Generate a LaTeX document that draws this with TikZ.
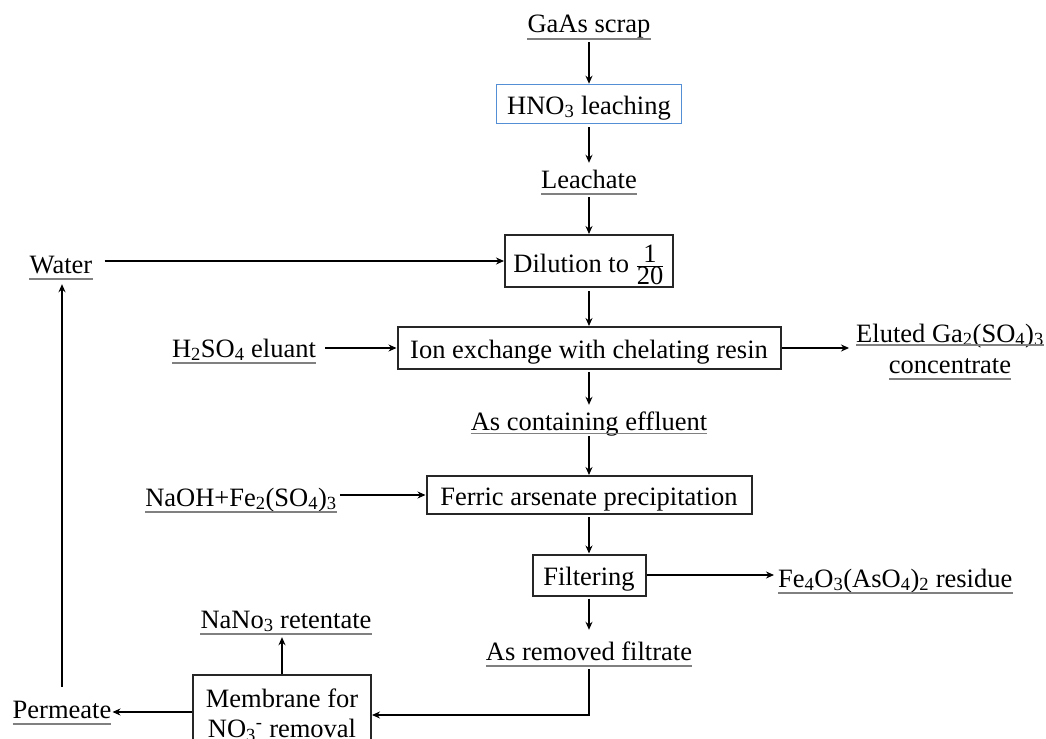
\documentclass[tikz,border=0pt]{standalone}
\usepackage{fontspec}
\setmainfont{Liberation Serif}
\usetikzlibrary{arrows.meta}
\definecolor{boxblue}{RGB}{84,142,213}
\definecolor{ulgray}{RGB}{128,128,128}
\begin{document}
\begin{tikzpicture}[x=1bp,y=-1bp,
  font=\fontsize{26.6}{30}\selectfont,
  box/.style={draw=black!85, line width=2bp, inner sep=0pt, text height=20bp, text depth=0pt},
  lbl/.style={inner sep=0pt, anchor=base, text height=18bp, text depth=6bp},
  arr/.style={line width=2bp, -{Stealth[length=8bp,width=7bp]}},
  uline/.style={draw=ulgray, line width=1.5bp}]
\useasboundingbox (0,0) rectangle (1046,739);

% nodes
\node[lbl] (gaas) at (589,33) {GaAs scrap};
\node[box, draw=boxblue, line width=1.6bp, minimum width=185bp, minimum height=39bp] (hno3) at (589,104) {HNO\textsubscript{3} leaching};
\node[lbl] (leach) at (589,188) {Leachate};
\node[box, minimum width=168bp, minimum height=52bp, text height=22bp] (dil) at (589,261) {Dilution to $\frac{\mbox{1}}{\mbox{20}}$};
\node[lbl] (water) at (61,273) {Water};
\node[box, minimum width=383bp, minimum height=42bp] (ion) at (589,348) {Ion exchange with chelating resin};
\node[lbl] (h2so4) at (244,357) {H\textsubscript{2}SO\textsubscript{4} eluant};
\node[lbl] (elu1) at (950,342) {Eluted Ga\textsubscript{2}(SO\textsubscript{4})\textsubscript{3}};
\node[lbl] (elu2) at (950,373) {concentrate};
\node[lbl] (asc) at (589,430) {As containing effluent};
\node[box, minimum width=325bp, minimum height=38bp] (fer) at (589,495) {Ferric arsenate precipitation};
\node[lbl] (naoh) at (241,506) {NaOH+Fe\textsubscript{2}(SO\textsubscript{4})\textsubscript{3}};
\node[box, minimum width=113bp, minimum height=41bp] (filt) at (589,575) {Filtering};
\node[lbl, anchor=base west] (res) at (778,587) {Fe\textsubscript{4}O\textsubscript{3}(AsO\textsubscript{4})\textsubscript{2} residue};
\node[lbl] (asr) at (589,660) {As removed filtrate};
\node[lbl] (ret) at (286,628) {NaNo\textsubscript{3} retentate};
\node[lbl] (perm) at (62,718) {Permeate};
\begin{scope}
\clip (0,0) rectangle (1046,739);
\node[draw=black!85, line width=2bp, inner sep=0pt, align=center, minimum width=178bp, minimum height=80bp, anchor=north] (mem) at (282,674) {Membrane for\\NO\textsubscript{3}\textsuperscript{-} removal};
\end{scope}

% underlines
\foreach \n in {gaas,leach,water,h2so4,elu2,naoh,res,asr,ret,perm}
  \draw[uline] (\n.south west) -- (\n.south east);
\draw[uline] ([yshift=3bp]elu1.south west) -- ([yshift=3bp]elu1.south east);
\draw[uline] ([yshift=2.5bp]asc.south west) -- ([yshift=2.5bp]asc.south east);

% connectors
\draw[arr, shorten <=3bp] (gaas.south) -- (gaas.south |- hno3.north);
\draw[arr, shorten <=3bp, shorten >=7bp] (hno3.south) -- (hno3.south |- leach.north);
\draw[arr, shorten <=3bp] (leach.south) -- (leach.south |- dil.north);
\draw[arr, shorten <=12bp] (water.east |- dil.west) -- (dil.west);
\draw[arr, shorten <=3bp] (dil.south) -- (dil.south |- ion.north);
\draw[arr, shorten <=9bp] (h2so4.east |- ion.west) -- (ion.west);
\draw[arr, shorten >=7bp] (ion.east) -- (ion.east -| elu1.west);
\draw[arr, shorten <=2bp, shorten >=7bp] (ion.south) -- (ion.south |- asc.north);
\draw[arr] (asc.south) -- (asc.south |- fer.north);
\draw[arr, shorten <=3bp] (naoh.east |- fer.west) -- (fer.west);
\draw[arr, shorten <=2bp] (fer.south) -- (fer.south |- filt.north);
\draw[arr, shorten >=4bp] (filt.east) -- (filt.east -| res.west);
\draw[arr, shorten <=2bp, shorten >=12bp] (filt.south) -- (filt.south |- asr.north);
\draw[arr, shorten <=3bp] (asr.south) -- (asr.south |- mem.east) -- (mem.east);
\draw[arr, shorten >=3bp] (mem.north) -- (mem.north |- ret.south);
\draw[arr, shorten >=1bp] (perm.east -| mem.west) -- (perm.east);
\draw[arr, shorten <=13bp, shorten >=5bp] (perm.north) -- (perm.north |- water.south);
\end{tikzpicture}
\end{document}
